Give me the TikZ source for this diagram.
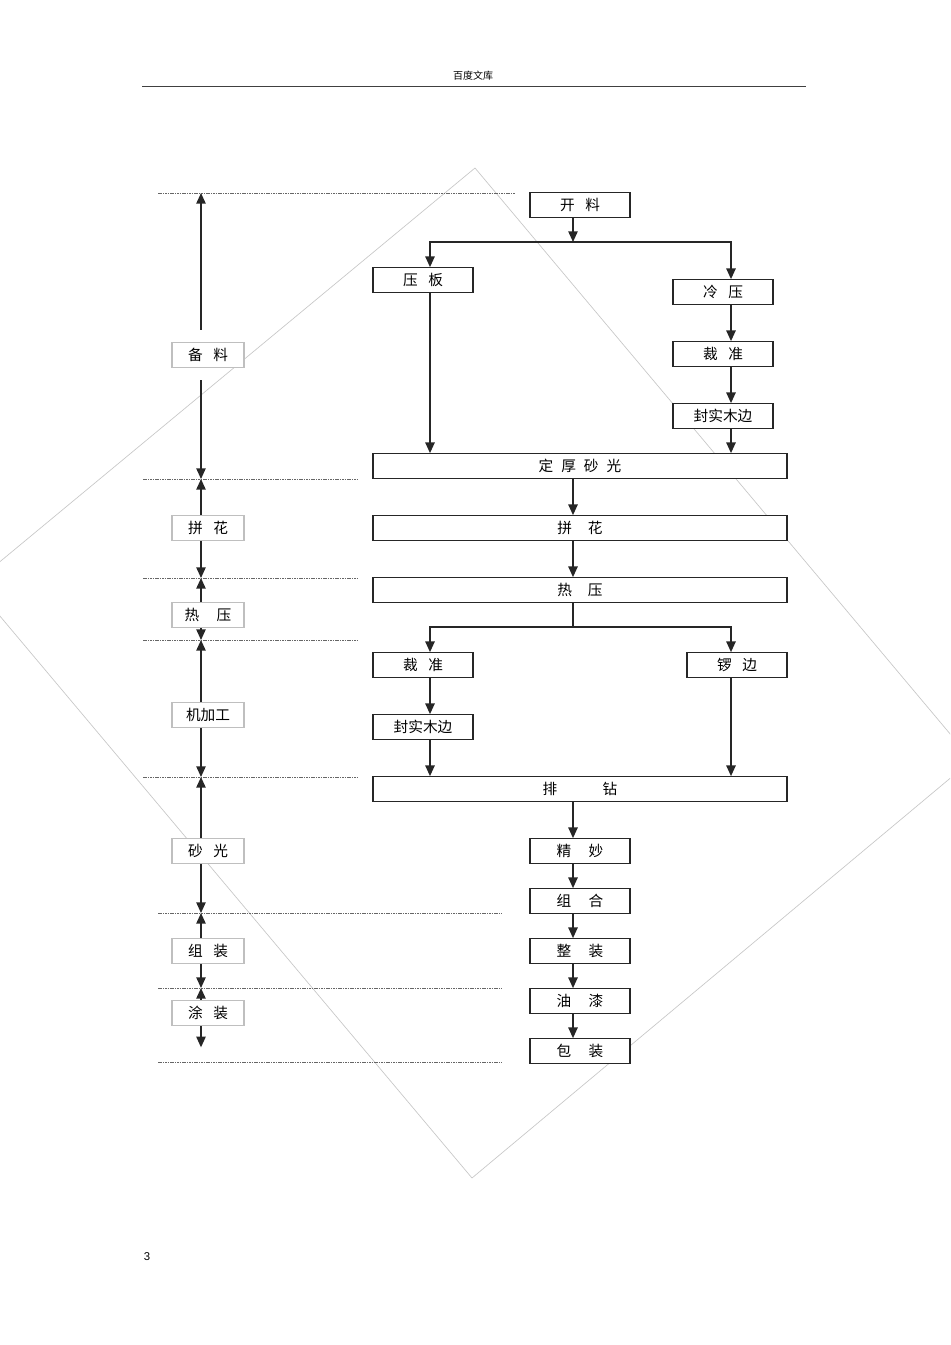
\documentclass[tikz,border=0pt]{standalone}
\usepackage{fontspec}
\newfontfamily\cjkfont{Noto Sans CJK SC}
\setsansfont{Liberation Sans}
\usepackage{tikz}
\tikzset{x=.75pt,y=-.75pt}
\usetikzlibrary{arrows.meta, calc}
\def\bodyfont{\cjkfont\fontsize{11}{12}\selectfont}
\newcommand{\gap}[1][8pt]{\hspace{#1}}

\tikzset{
  proc/.style={draw=black!85, line width=.9pt, fill=white, inner sep=0pt,
    minimum width=75pt, minimum height=18.4pt, font=\bodyfont},
  wide/.style={proc, minimum width=310.5pt},
  stage/.style={draw=black!25, line width=.8pt, fill=white, inner sep=0pt,
    minimum width=54pt, minimum height=18.75pt, font=\bodyfont},
  link/.style={line width=1.1pt, black!85},
  guide/.style={black!60, line width=.6pt, dash pattern=on 1.2pt off .6pt},
}

\begin{document}
\begin{tikzpicture}[>={Triangle[length=8pt,width=7pt]}]
\useasboundingbox (0,0) rectangle (950,1345);
% background mark
\begin{scope}
  \clip (0,0) rectangle (950,1345);
  \draw[black!22, line width=.5pt] (475,168) -- (972,760) -- (472,1178) -- (-27,584) -- cycle;
\end{scope}
% page head and number
\node[font=\cjkfont\fontsize{7.5}{9}\selectfont] (head) at (473,76) {百度文库};
\draw[black!75, line width=.6pt] (142,86) -- (806,86);
\node[font=\sffamily\fontsize{8.5}{10}\selectfont] (pageno) at (147,1257) {3};

% process boxes
\node[proc] (kl)  at (580,205) {开\gap 料};
\node[proc] (yb)  at (423,280) {压\gap 板};
\node[proc] (ly)  at (723,292) {冷\gap 压};
\node[proc] (cz1) at (723,354) {裁\gap 准};
\node[proc] (fb1) at (723,416) {封实木边};
\node[wide] (dh)  at (580,466) {定\gap[6pt]厚\gap[6pt]砂\gap[6pt]光};
\node[wide] (ph)  at (580,528) {拼\gap[12pt]花};
\node[wide] (ry)  at (580,590) {热\gap[12pt]压};
\node[proc] (cz2) at (423,665) {裁\gap 准};
\node[proc] (lb)  at (737,665) {锣\gap 边};
\node[proc] (fb2) at (423,727) {封实木边};
\node[wide] (pz)  at (580,789) {排\gap[34pt]钻};
\node[proc] (jm)  at (580,851) {精\gap[13pt]妙};
\node[proc] (zh)  at (580,901) {组\gap[13pt]合};
\node[proc] (zz)  at (580,951) {整\gap[13pt]装};
\node[proc] (yq)  at (580,1001) {油\gap[13pt]漆};
\node[proc] (bz)  at (580,1051) {包\gap[13pt]装};

% columns of the arrows
\coordinate (sp) at (573,0);
\coordinate (lx) at (430,0);
\coordinate (rx) at (731,0);
\coordinate (fa) at (573,242);
\coordinate (fb) at (573,627);

% first fork
\draw[link,->] (kl.south -| sp) -- (fa);
\draw[link,->] (fa) -| (yb.north -| lx);
\draw[link,->] (fa) -| (ly.north -| rx);
\draw[link,->] (yb.south -| lx) -- (dh.north -| lx);
\draw[link,->] (ly.south -| rx) -- (cz1.north -| rx);
\draw[link,->] (cz1.south -| rx) -- (fb1.north -| rx);
\draw[link,->] (fb1.south -| rx) -- (dh.north -| rx);
\draw[link,->] (dh.south -| sp) -- (ph.north -| sp);
\draw[link,->] (ph.south -| sp) -- (ry.north -| sp);
% second fork
\draw[link] (ry.south -| sp) -- (fb);
\draw[link,->] (fb) -| (cz2.north -| lx);
\draw[link,->] (fb) -| (lb.north -| rx);
\draw[link,->] (cz2.south -| lx) -- (fb2.north -| lx);
\draw[link,->] (fb2.south -| lx) -- (pz.north -| lx);
\draw[link,->] (lb.south -| rx) -- (pz.north -| rx);
\draw[link,->] (pz.south -| sp) -- (jm.north -| sp);
\foreach \a/\b in {jm/zh, zh/zz, zz/yq, yq/bz}
  \draw[link,->] (\a.south -| sp) -- (\b.north -| sp);

% stage bounds
\foreach \y/\a/\b [count=\i from 0] in {193/158/515, 479/143/358, 578/143/358,
    640/143/358, 777/143/358, 913/158/502, 988/158/502, 1062/158/502} {
  \coordinate (gl\i) at (\a,\y);
  \coordinate (gr\i) at (\b,\y);
  \draw[guide] (gl\i) -- (gr\i);
}

% stage labels
\coordinate (ax) at (201,0);
\node[stage] (s1) at (208,355) {备\gap 料};
\node[stage] (s2) at (208,528) {拼\gap 花};
\node[stage] (s3) at (208,615) {热\gap[13pt]压};
\node[stage] (s4) at (208,715) {机加工};
\node[stage] (s5) at (208,851) {砂\gap 光};
\node[stage] (s6) at (208,951) {组\gap 装};
\node[stage] (s7) at (208,1013) {涂\gap 装};

\draw[link,->,shorten <=9pt] (s1.north -| ax) -- (gl0 -| ax);
\draw[link,->,shorten <=9pt] (s1.south -| ax) -- (gl1 -| ax);
\foreach \s/\u/\d in {2/1/2, 3/2/3, 4/3/4, 5/4/5, 6/5/6} {
  \draw[link,->] (s\s.north -| ax) -- (gl\u -| ax);
  \draw[link,->] (s\s.south -| ax) -- (gl\d -| ax);
}
\draw[link,->] (s7.north -| ax) -- (gl6 -| ax);
\draw[link,->,shorten >=11pt] (s7.south -| ax) -- (gl7 -| ax);
\end{tikzpicture}
\end{document}
